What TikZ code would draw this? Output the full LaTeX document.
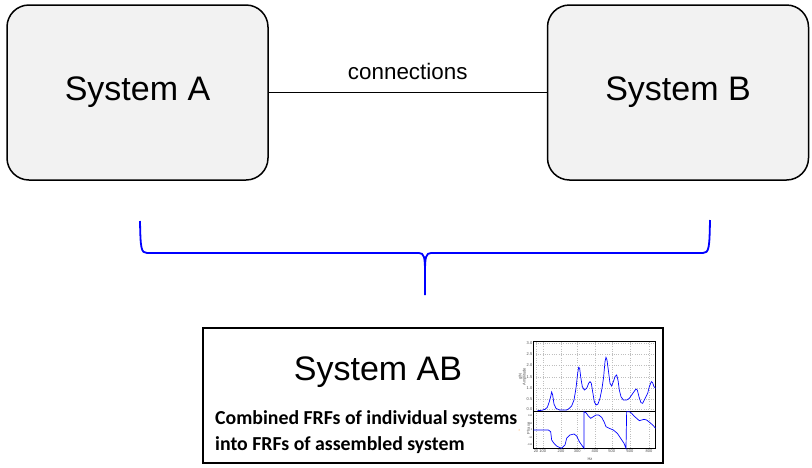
\documentclass[tikz,border=0pt]{standalone}
\usepackage{fontspec}
\setmainfont{Liberation Sans}
\newfontfamily\calibri{Carlito}
\usetikzlibrary{positioning}
\definecolor{boxgray}{RGB}{242,242,242}
\definecolor{frfblue}{RGB}{0,0,255}

\tikzset{
	sysbox/.style = {draw, line width = 1.5pt, rounded corners = 22pt, fill = boxgray,
		minimum width = 261pt, minimum height = 175pt, font = \fontsize{34}{40}\selectfont},
	tinylabel/.style = {font = \fontsize{4}{4}\selectfont, text = black!70, inner sep = 0.5pt},
	frftext/.style = {anchor = base west, inner sep = 0pt, font = \calibri\bfseries\fontsize{19.8}{22}\selectfont}
}

\begin{document}
\begin{tikzpicture}[x = 1pt, y = -1pt]
\useasboundingbox (0,0) rectangle (812,467);

\node[sysbox] (sysA) at (137.5,92.5) {System A};
\node[sysbox, right = 278pt of sysA] (sysB) {System B};
\draw[line width = 1.5pt] (sysA.east) -- (sysB.west) node[midway, above = 8.5pt, font = \fontsize{22.4}{26}\selectfont] (conn) {connections};

% brace
\draw[frfblue, line width = 1.8pt] (140,221) .. controls (140.5,248) and (141,253) .. (147,253) -- (419,253)
	.. controls (424,253) and (425,257) .. (425,272) -- (425,295);
\draw[frfblue, line width = 1.8pt] (710,220) .. controls (709.5,248) and (709,253) .. (703,253) -- (431,253)
	.. controls (426,253) and (425,257) .. (425,272);

\node[draw, line width = 2pt, fill = white, minimum width = 460pt, minimum height = 135pt] (sysAB) at (433,395.5) {};
\node[font = \fontsize{34}{40}\selectfont] (abtitle) at (378,372) {System AB};
\node[frftext] (line1) at (215,424) {Combined FRFs of individual systems};
\node[frftext] (line2) at (215,450) {into FRFs of assembled system};

% FRF plot
\begin{scope}[shift = {(500,330)}, x = 0.3333pt, y = -0.3333pt]
	\foreach \y/\v in {40/3.0, 72/2.5, 105/2.0, 140/1.5, 173/1.0, 207/0.5, 238/0.0} {
		\draw[black!25, dotted, line width = 0.3pt] (100,\y) -- (467,\y);
		\node[tinylabel, anchor = east] (amp\y) at (99,\y) {\v};
	}
	\foreach \x/\f in {108/20, 128/100, 183/200, 232/300, 285/400, 335/500, 390/600, 447/800} {
		\draw[black!25, dotted, line width = 0.3pt] (\x,35) -- (\x,355);
		\node[tinylabel, anchor = north] (hz\f) at (\x,357) {\f};
	}
	\foreach \y/\v in {258/180, 280/90, 300/0, 322/-90, 345/-180}
		\node[tinylabel, font = \fontsize{2.5}{3}\selectfont, anchor = east] (ph\y) at (99,\y) {\v};
	\node[tinylabel, anchor = north] (hzlabel) at (270,380) {Hz};
	\node[tinylabel, rotate = 90, align = center] (amplabel) at (68,140) {g/N\\Amplitude};
	\node[tinylabel, rotate = 90] (phlabel) at (85,295) {Phase};
	\fill[orange] (57,300) circle (1.5);

	\draw[line width = 0.5pt] (100,35) rectangle (467,243);
	\draw[line width = 0.5pt] (100,243) rectangle (467,355);

	\draw[frfblue, line width = 0.7pt] plot coordinates {(112,242) (125,241) (135,238) (142,232) (148,215)
		(152,200) (155,186) (158,195) (162,222) (168,235) (178,240) (200,240) (208,235) (215,228) (222,210)
		(228,175) (233,130) (236,112) (239,115) (242,140) (247,170) (253,180) (260,175) (266,160) (270,155)
		(274,160) (278,185) (283,215) (288,225) (294,222) (300,205) (306,175) (311,140) (315,95) (318,82)
		(321,90) (325,120) (330,160) (335,168) (340,155) (345,140) (350,135) (354,150) (358,180) (363,200)
		(370,210) (380,210) (388,205) (395,195) (402,185) (408,177) (412,180) (417,200) (423,218) (428,220)
		(433,210) (438,200) (443,190) (448,170) (454,155) (458,158) (462,170) (467,175)};
	\draw[frfblue, line width = 0.7pt] plot coordinates {(100,300) (145,300) (152,305) (155,330) (162,340)
		(170,348) (178,352) (185,355) (195,345) (200,325) (210,315) (222,312) (230,318) (238,335) (245,345)
		(252,355) (252,245) (258,248) (265,258) (272,265) (280,260) (288,255) (296,255) (305,262) (312,275)
		(318,290) (328,295) (340,300) (352,310) (362,325) (372,340) (378,355) (380,245) (388,245) (395,250)
		(402,258) (410,265) (418,272) (425,270) (432,268) (440,270) (450,278) (458,285) (467,295)};
\end{scope}
\end{tikzpicture}
\end{document}
